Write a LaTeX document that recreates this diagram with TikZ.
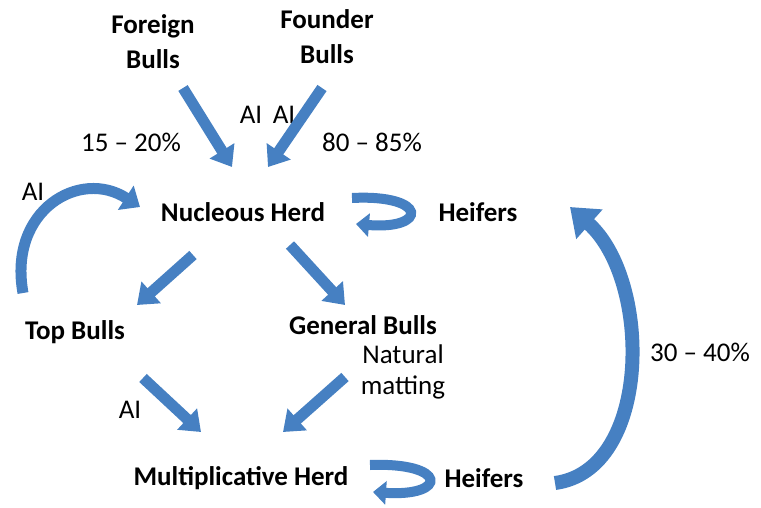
\documentclass[tikz,border=0pt]{standalone}
\usepackage{fontspec}
\setmainfont{Carlito}
\usepackage{tikz}
\usetikzlibrary{arrows.meta}
\definecolor{setaazul}{RGB}{70,128,194}

\begin{document}
\begin{tikzpicture}[x=1pt,y=-1pt,
        grupo/.style={font=\fontsize{27}{35}\selectfont\bfseries,align=center,inner sep=0pt},
        rotulo/.style={font=\fontsize{27}{31}\selectfont,align=center,inner sep=0pt},
        seta/.style={draw=setaazul,line width=11pt,-{Triangle[width=28pt,length=19pt]}},
        volta/.style={draw=setaazul,line width=10pt,-{Triangle[width=23pt,length=13pt]}}]
      \useasboundingbox (0,0) rectangle (761,507);
      \node [grupo] (fb) at (153,42)  {Foreign\\Bulls};
      \node [grupo] (fo) at (327,37)  {Founder\\Bulls};
      \node [grupo] (nh) at (243,212) {Nucleous Herd};
      \node [grupo] (h1) at (478,212) {Heifers};
      \node [grupo] (tb) at (75,332)  {Top Bulls};
      \node [grupo] (gb) at (363,325) {General Bulls};
      \node [grupo] (mh) at (241,478) {Multiplicative Herd};
      \node [grupo] (h2) at (484,478) {Heifers};
      \node [rotulo] (ai1) at (251,115) {AI};
      \node [rotulo] (ai2) at (284,115) {AI};
      \node [rotulo] (p1)  at (131,142) {15 -- 20\%};
      \node [rotulo] (p2)  at (372,142) {80 -- 85\%};
      \node [rotulo] (ai3) at (33,192)  {AI};
      \node [rotulo] (ai4) at (130,410) {AI};
      \node [rotulo] (nm)  at (403,372) {Natural\\matting};
      \node [rotulo] (p3)  at (700,352) {30 -- 40\%};
      % straight arrows
      \draw [seta] ([shift={(30,46)}]fb.center) -- ([shift={(-11,-45)}]nh.center);
      \draw [seta] ([shift={(-5,51)}]fo.center) -- ([shift={(25,-45)}]nh.center);
      \draw [seta] ([shift={(-50,43)}]nh.center) -- ([shift={(62,-27)}]tb.center);
      \draw [seta] ([shift={(47,33)}]nh.center) -- ([shift={(-18,-20)}]gb.center);
      \draw [seta] ([shift={(68,46)}]tb.center) -- ([shift={(-40,-46)}]mh.center);
      \draw [seta] ([shift={(-18,52)}]gb.center) -- ([shift={(42,-46)}]mh.center);
      % curved arrows
      \draw [seta,line width=11pt,-{Triangle[width=28pt,length=17pt]}]
        ([shift={(-52,-39)}]tb.center) .. controls (8,210) and (80,168) .. ([shift={(-103,-5)}]nh.center);
      \draw [volta] ([shift={(109,-14)}]nh.center) .. controls (428,194) and (428,230) .. ([shift={(113,12)}]nh.center);
      \draw [volta] ([shift={(129,-13)}]mh.center) .. controls (448,462) and (448,497) .. ([shift={(132,14)}]mh.center);
      \draw [seta,line width=14pt,-{Triangle[width=38pt,length=26pt]}]
        ([shift={(71,5)}]h2.center) .. controls (652,470) and (652,280) .. ([shift={(92,-5)}]h1.center);
\end{tikzpicture}
\end{document}
